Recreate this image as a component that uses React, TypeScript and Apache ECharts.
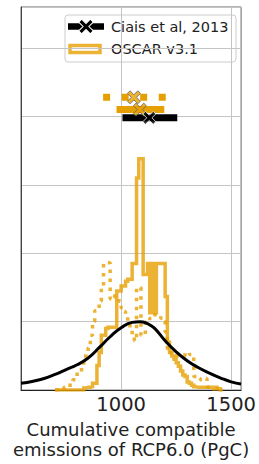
import React, { useEffect, useRef } from "react";
import * as echarts from "echarts";

// ---------- data ----------
const X_MIN = 545;
const X_MAX = 1545;
const Y_MAX = 5.6;
const TICK_VALUES = [1000, 1500];
const TICK_LABELS = ["1000", "1500"];
const X_AXIS_NAME = "Cumulative compatible\nemissions of RCP6.0 (PgC)";
const LEGEND_LABELS = ["Ciais et al, 2013", "OSCAR v3.1"];

// histogram bins: first bin left edge and width (PgC)
const BIN_START = 700;
const BIN_WIDTH = 10;

// OSCAR v3.1, solid step histogram (bins of 10 PgC from 700)
const oscarSolidHist = [
  0, 0, 0, 0, 0, 0, 0, 0, 0, 0, 0, 0, 0, // 700-820
  0.03, 0.04, 0.04, 0.05, 0.1, 0.1, 0.36, // 830-890
  0.55, 0.8, 0.8, 0.9, 0.92, 0.92, 0.92, 0.92, 1.45, 1.45, // 900-990
  1.52, 1.52, 1.59, 1.62, 1.62, 1.85, 1.85, 3.1, 3.38, 3.38, // 1000-1090
  1.69, 1.69, 1.85, 1.13, 1.85, 1.13, 1.85, 1.85, 1.85, 1.85, // 1100-1190
  1.37, 0.7, 0.55, 0.5, 0.45, 0.4, 0.35, 0.28, 0.22, 0.2, // 1200-1290
  0.12, 0.1, 0.07, 0.05, 0.04, 0.04, 0.04, 0.04, 0.04, 0.04, // 1300-1390
  0.04, 0.04, 0.02, 0.02, 0.02, 0, // 1400-1450
];

// OSCAR v3.1, dotted step histogram (bins of 10 PgC from 700)
const oscarDottedHist = [
  0, 0, 0, 0, 0.04, 0.04, 0.07, 0.07, 0.15, 0.15, // 700-790
  0.26, 0.26, 0.35, 0.5, 0.55, 0.62, 0.8, 1.0, 1.16, 1.16, // 800-890
  1.3, 1.5, 1.86, 1.86, 1.86, 1.33, 1.38, 1.36, 1.36, 1.3, // 900-990
  1.2, 1.15, 1.1, 1.0, 0.9, 0.8, 0.72, 1.5, 1.5, 0.8, // 1000-1090
  0.8, 1.0, 1.0, 1.05, 1.1, 1.1, 1.1, 1.1, 1.05, 1.0, // 1100-1190
  0.85, 0.6, 0.55, 0.52, 0.5, 0.5, 0.5, 0.5, 0.5, 0.55, // 1200-1290
  0.55, 0.52, 0.5, 0.2, 0.2, 0.17, 0.15, 0.17, 0.17, 0.04, // 1300-1390
  0.04, 0.04, 0.04, 0.04, 0.04, 0, // 1400-1450
];

// Ciais et al, 2013 distribution curve
const ciaisCurveX = [545, 600, 650, 700, 750, 800, 850, 900, 950, 1000, 1050, 1085, 1120, 1150, 1200, 1250, 1300, 1350, 1400, 1450, 1500, 1545];
const ciaisCurveY = [0.1, 0.13, 0.17, 0.23, 0.3, 0.37, 0.47, 0.62, 0.78, 0.91, 0.99, 1.0, 0.97, 0.91, 0.72, 0.56, 0.43, 0.33, 0.25, 0.18, 0.12, 0.09];

// range bars at the top: [low, high], best estimate, height
const ciaisRange = [1006, 1255];
const ciaisBest = 1128;
const ciaisLevel = 3.98;
const oscarSolidRange = [979, 1196];
const oscarSolidBest = 1085;
const oscarSolidLevel = 4.1;
const oscarDottedRange = [918, 1203];
const oscarDottedBest = 1058;
const oscarDottedLevel = 4.28;

// ---------- styles ----------
const ORANGE = "#E69F00";
const FONT = "DejaVu Sans";
const X_SYMBOL_D = "M-5,-3L-3,-5L0,-2L3,-5L5,-3L2,0L5,3L3,5L0,2L-3,5L-5,3L-2,0Z";
const X_SYMBOL = "path://" + X_SYMBOL_D;

let registered = false;
function registerShapes() {
  if (registered) return;
  registered = true;
  echarts.graphic.registerShape("xmark", echarts.graphic.extendPath(X_SYMBOL_D, {}) as any);
}

function stepPoints(heights: number[]): number[][] {
  const pts: number[][] = [];
  heights.forEach((h, i) => {
    const x0 = BIN_START + i * BIN_WIDTH;
    pts.push([x0, h]);
    pts.push([x0 + BIN_WIDTH, h]);
  });
  return pts;
}

export default function App() {
  const ref = useRef<HTMLDivElement>(null);

  useEffect(() => {
    if (!ref.current) return;
    registerShapes();
    const chart = echarts.init(ref.current, undefined, { renderer: "svg" });

    const option: any = {
      animation: false,
      grid: {
        left: 21,
        right: 16.7,
        top: 7,
        bottom: 69,
        show: true,
        borderColor: "#666",
        borderWidth: 1,
        containLabel: false,
      },
      xAxis: {
        type: "value",
        min: X_MIN,
        max: X_MAX,
        axisLine: { show: true, lineStyle: { color: "#222", width: 1 } },
        axisTick: { show: false, customValues: TICK_VALUES },
        axisLabel: {
          customValues: TICK_VALUES,
          formatter: (v: number) => TICK_LABELS[TICK_VALUES.indexOf(v)] ?? String(v),
          fontSize: 19.5,
          color: "#222",
          margin: 4,
          fontFamily: FONT,
        },
        splitLine: { show: true, lineStyle: { color: "#c4c4c4", width: 1 } },
        name: X_AXIS_NAME,
        nameLocation: "middle",
        nameGap: 28,
        nameTextStyle: { fontSize: 18, lineHeight: 20, color: "#222", fontFamily: FONT },
      },
      yAxis: {
        type: "value",
        min: 0,
        max: Y_MAX,
        interval: 1,
        axisLabel: { show: false },
        axisTick: { show: false },
        axisLine: { show: true, lineStyle: { color: "#444", width: 1 } },
        splitLine: { show: true, lineStyle: { color: "#c4c4c4", width: 1 } },
      },
      series: [
        {
          type: "line",
          data: stepPoints(oscarDottedHist),
          symbol: "none",
          silent: true,
          z: 2,
          lineStyle: { color: ORANGE, width: 3.5, type: [3.5, 5.5], cap: "butt", opacity: 0.8 },
        },
        {
          type: "line",
          data: stepPoints(oscarSolidHist),
          symbol: "none",
          silent: true,
          z: 3,
          lineStyle: { color: ORANGE, width: 3.5, opacity: 0.8, join: "miter" },
        },
        {
          type: "line",
          data: ciaisCurveX.map((x, i) => [x, ciaisCurveY[i]]),
          symbol: "none",
          smooth: 0.5,
          silent: true,
          z: 4,
          lineStyle: { color: "#000", width: 3 },
        },
        {
          type: "line",
          data: [[oscarDottedRange[0], oscarDottedLevel], [oscarDottedRange[1], oscarDottedLevel]],
          symbol: "none",
          silent: true,
          z: 5,
          lineStyle: { color: ORANGE, width: 7, type: [7, 11.55], cap: "butt" },
        },
        {
          type: "line",
          data: [[oscarSolidRange[0], oscarSolidLevel], [oscarSolidRange[1], oscarSolidLevel]],
          symbol: "none",
          silent: true,
          z: 5,
          lineStyle: { color: ORANGE, width: 7, cap: "butt" },
        },
        {
          type: "line",
          data: [[ciaisRange[0], ciaisLevel], [ciaisRange[1], ciaisLevel]],
          symbol: "none",
          silent: true,
          z: 6,
          lineStyle: { color: "#000", width: 7, cap: "butt" },
        },
        {
          type: "scatter",
          symbol: X_SYMBOL,
          symbolSize: 13,
          silent: true,
          z: 7,
          data: [
            { value: [oscarDottedBest, oscarDottedLevel], itemStyle: { color: ORANGE, borderColor: "#666", borderWidth: 1 } },
            { value: [oscarSolidBest, oscarSolidLevel], itemStyle: { color: ORANGE, borderColor: "#666", borderWidth: 1 } },
            { value: [ciaisBest, ciaisLevel], itemStyle: { color: "#000", borderColor: "#fff", borderWidth: 1 } },
          ],
        },
      ],
      graphic: [
        {
          type: "group",
          z: 100,
          children: [
            {
              type: "rect",
              shape: { x: 65, y: 15, width: 171, height: 47, r: 3 },
              style: { fill: "rgba(255,255,255,0.8)", stroke: "#cccccc", lineWidth: 1 },
            },
            {
              type: "line",
              shape: { x1: 68, y1: 26.5, x2: 104, y2: 26.5 },
              style: { stroke: "#000", lineWidth: 6.5 },
            },
            {
              type: "xmark",
              x: 86,
              y: 26.5,
              scaleX: 1.45,
              scaleY: 1.45,
              style: { fill: "#000", stroke: "#fff", lineWidth: 0.7 },
            },
            {
              type: "rect",
              shape: { x: 70, y: 45.5, width: 30, height: 7 },
              style: { fill: "transparent", stroke: ORANGE, lineWidth: 3.5, opacity: 0.8 },
            },
            {
              type: "text",
              x: 111,
              y: 26.5,
              style: {
                text: LEGEND_LABELS[0],
                fontSize: 14.5,
                fontFamily: FONT,
                fill: "#222",
                verticalAlign: "middle",
                align: "left",
              },
            },
            {
              type: "text",
              x: 111,
              y: 48.5,
              style: {
                text: LEGEND_LABELS[1],
                fontSize: 14.5,
                fontFamily: FONT,
                fill: "#222",
                verticalAlign: "middle",
                align: "left",
              },
            },
          ],
        },
      ],
    };

    chart.setOption(option);
    return () => chart.dispose();
  }, []);

  return (
    <div
      ref={ref}
      style={{ position: "fixed", left: 0, top: 0, width: 259, height: 464, background: "#fff" }}
    />
  );
}
